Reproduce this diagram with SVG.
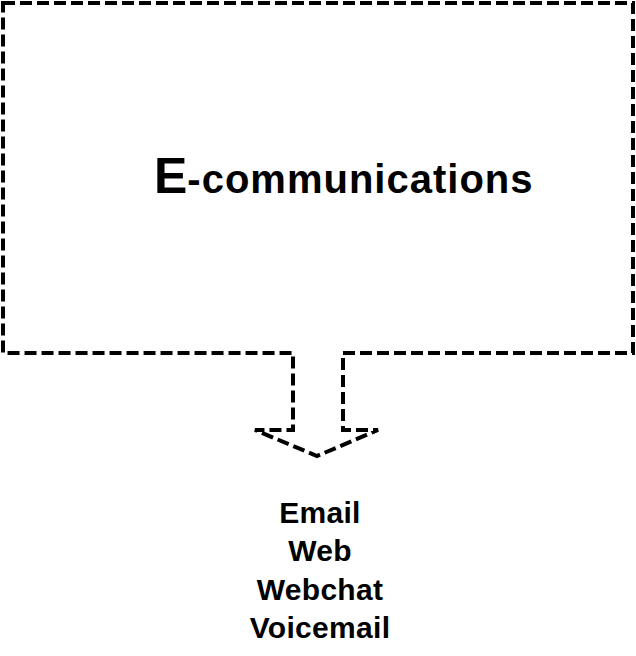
<svg xmlns="http://www.w3.org/2000/svg" width="636" height="656" viewBox="0 0 636 656">
<style>
.outline{fill:#fff;stroke:#000;stroke-width:4;stroke-dasharray:12 5;stroke-linejoin:miter}
.t{font-family:"Liberation Sans",Arial,sans-serif;font-weight:bold;fill:#000}
.item{font-size:30px;text-anchor:middle;letter-spacing:0.3px}
</style>
<rect width="636" height="656" fill="#fff"/>
<g id="connectors"></g>
<g id="node-ecomm">
<path class="outline" d="M3,3 H633 V353 H343 V430 H378 L317,456 L255,430 H293 V353 H3 Z"/>
<text class="t" x="154" y="193"><tspan font-size="50">E</tspan><tspan font-size="40" letter-spacing="1">-communications</tspan></text>
</g>
<g id="node-list">
<text class="t item" x="320" y="523">Email</text>
<text class="t item" x="320" y="561">Web</text>
<text class="t item" x="320" y="600">Webchat</text>
<text class="t item" x="320" y="638">Voicemail</text>
</g>
</svg>
